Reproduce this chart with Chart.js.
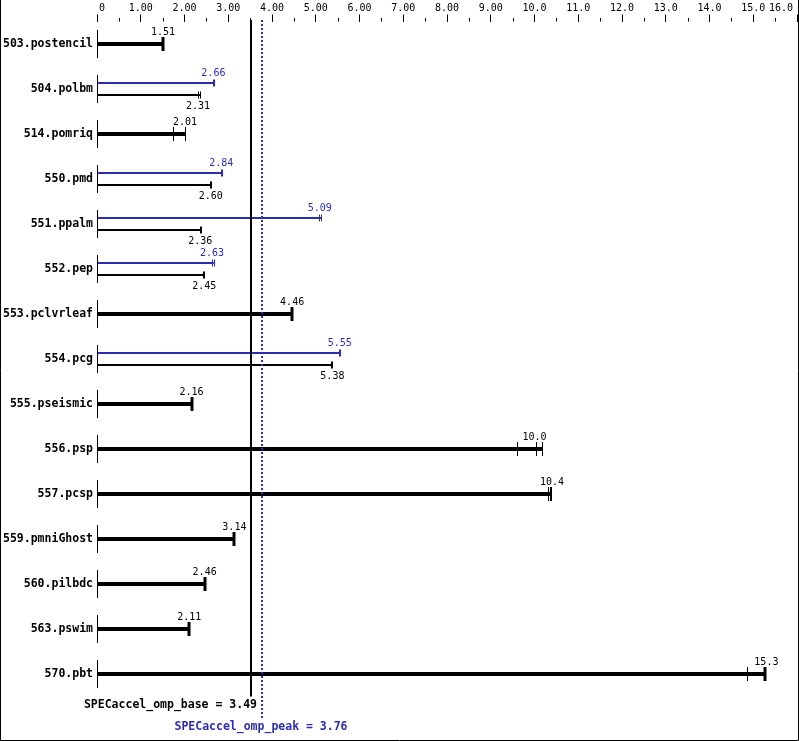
<!DOCTYPE html>
<html>
<head>
<meta charset="utf-8">
<script src="https://cdn.jsdelivr.net/npm/chart.js@4.4.0/dist/chart.umd.min.js"></script>
<style>
  body { margin: 0; background: #fff; }
  #wrap { width: 799px; height: 741px; }
</style>
</head>
<body>
<div id="wrap"><canvas id="specChart"></canvas></div>
<script>
const benchmarks = ["503.postencil", "504.polbm", "514.pomriq", "550.pmd", "551.ppalm",
  "552.pep", "553.pclvrleaf", "554.pcg", "555.pseismic", "556.psp", "557.pcsp",
  "559.pmniGhost", "560.pilbdc", "563.pswim", "570.pbt"];

// scores printed next to the bars
const baseScore = [1.51, 2.31, 2.01, 2.60, 2.36, 2.45, 4.46, 5.38, 2.16, 10.0, 10.4, 3.14, 2.46, 2.11, 15.3];
const peakScore = [null, 2.66, null, 2.84, 5.09, 2.63, null, 5.55, null, null, null, null, null, null, null];

// where each bar ends (slowest/fastest run)
const baseMax = [1.51, 2.36, 2.01, 2.60, 2.38, 2.44, 4.46, 5.38, 2.16, 10.18, 10.38, 3.14, 2.46, 2.11, 15.27];
const peakMax = [null, 2.67, null, 2.85, 5.13, 2.67, null, 5.56, null, null, null, null, null, null, null];

// individual run marks
const baseRuns = [[], [2.31, 2.36], [1.73, 2.01], [], [], [], [], [], [], [9.59, 10.03, 10.18],
  [10.31, 10.35, 10.38], [], [], [], [14.85]];
const peakRuns = [[], [], [], [], [5.08, 5.13], [2.63, 2.67], [], [5.52, 5.56], [], [], [], [], [], [], []];

const xTicks = [0, 1, 2, 3, 4, 5, 6, 7, 8, 9, 10, 11, 12, 13, 14, 15, 16];
const xTickLabels = ["0", "1.00", "2.00", "3.00", "4.00", "5.00", "6.00", "7.00", "8.00",
  "9.00", "10.0", "11.0", "12.0", "13.0", "14.0", "15.0", "16.0"];

const baseMean = 3.49;
const peakMean = 3.76;

const BLUE = "#2d2db4";
const MONO = "'DejaVu Sans Mono', 'Liberation Mono', monospace";

const hasPeak = peakScore.map(v => v !== null);
const baseThin = baseMax.map((v, i) => hasPeak[i] ? v : null);
const baseThick = baseMax.map((v, i) => hasPeak[i] ? null : v);

function fmt(v) {
  return v < 10 ? v.toFixed(2) : v.toFixed(1);
}

function vline(ctx, x, y1, y2, w, color) {
  ctx.beginPath();
  ctx.lineWidth = w;
  ctx.strokeStyle = color;
  ctx.moveTo(x, y1);
  ctx.lineTo(x, y2);
  ctx.stroke();
}

const marksPlugin = {
  id: "marks",
  beforeDraw(chart) {
    const ctx = chart.ctx;
    ctx.save();
    ctx.fillStyle = "#fff";
    ctx.fillRect(0, 0, chart.width, chart.height);
    ctx.restore();
  },
  afterDatasetsDraw(chart) {
    const { ctx, chartArea: area, scales: { x, y } } = chart;
    ctx.save();

    // x tick labels, kept inside the frame
    ctx.font = "10px " + MONO;
    ctx.fillStyle = "#000";
    ctx.textAlign = "center";
    ctx.textBaseline = "middle";
    xTicks.forEach((v, i) => {
      const t = xTickLabels[i];
      const w = ctx.measureText(t).width;
      let cx = x.getPixelForValue(v);
      cx = Math.max(cx, area.left + 2 + w / 2);
      cx = Math.min(cx, area.right - 4 - w / 2);
      ctx.fillText(t, cx, 8);
    });

    // minor ticks
    for (let v = 0.5; v < 16; v += 1) {
      const px = Math.round(x.getPixelForValue(v)) + 0.5;
      vline(ctx, px, area.top - 3.5, area.top, 1, "#000");
    }

    // row stubs on the left axis
    benchmarks.forEach((b, i) => {
      const cy = y.getPixelForValue(i);
      vline(ctx, area.left + 0.5, cy - 14, cy + 14, 1, "#000");
    });

    // caps, run marks and score labels
    const sets = [
      { meta: 0, max: peakMax, runs: peakRuns, score: peakScore, color: BLUE, half: 3.5, capW: 2, dy: -10 },
      { meta: 1, max: baseThin, runs: baseRuns, score: baseScore, color: "#000", half: 3.5, capW: 2, dy: 11 },
      { meta: 2, max: baseThick, runs: baseRuns, score: baseScore, color: "#000", half: 7, capW: 3, dy: -12 }
    ];
    ctx.font = "10px " + MONO;
    sets.forEach(s => {
      const meta = chart.getDatasetMeta(s.meta);
      meta.data.forEach((bar, i) => {
        if (s.max[i] === null) return;
        const cy = bar.y;
        const runs = s.runs[i];
        runs.forEach(r => {
          const px = Math.round(x.getPixelForValue(r)) + 0.5;
          vline(ctx, px, cy - s.half, cy + s.half, 1, s.color);
        });
        if (!runs.includes(s.max[i])) {
          const px = Math.round(x.getPixelForValue(s.max[i]));
          vline(ctx, px, cy - s.half, cy + s.half, s.capW, s.color);
        }
        ctx.fillStyle = s.color;
        ctx.fillText(fmt(s.score[i]), x.getPixelForValue(s.score[i]), cy + s.dy);
      });
    });

    // overall score lines
    const bx = Math.round(x.getPixelForValue(baseMean)) + 1;
    vline(ctx, bx, area.top - 1.5, area.bottom, 2, "#000");
    const px = Math.round(x.getPixelForValue(peakMean));
    ctx.setLineDash([2, 2]);
    vline(ctx, px, area.top - 1.5, area.bottom + 22, 2, BLUE);
    ctx.setLineDash([]);

    ctx.font = "bold 11.5px " + MONO;
    ctx.fillStyle = "#000";
    ctx.textAlign = "right";
    ctx.fillText("SPECaccel_omp_base = " + baseMean.toFixed(2), bx + 6, 705);
    ctx.fillStyle = BLUE;
    ctx.textAlign = "center";
    ctx.fillText("SPECaccel_omp_peak = " + peakMean.toFixed(2), px - 1, 727);

    // frame
    ctx.strokeStyle = "#000";
    ctx.lineWidth = 1;
    ctx.beginPath();
    ctx.moveTo(0.5, 0);
    ctx.lineTo(0.5, chart.height - 0.5);
    ctx.lineTo(chart.width - 0.5, chart.height - 0.5);
    ctx.lineTo(chart.width - 0.5, 0);
    ctx.stroke();
    ctx.restore();
  }
};

const barOpts = { categoryPercentage: 24 / 45, skipNull: true };

new Chart(document.getElementById("specChart"), {
  type: "bar",
  data: {
    labels: benchmarks,
    datasets: [
      { label: "peak", data: peakMax, backgroundColor: BLUE, barPercentage: 1 / 6, ...barOpts },
      { label: "base", data: baseThin, backgroundColor: "#000", barPercentage: 1 / 6, ...barOpts },
      { label: "base", data: baseThick, backgroundColor: "#000", barPercentage: 1 / 6, ...barOpts }
    ]
  },
  options: {
    indexAxis: "y",
    responsive: true,
    maintainAspectRatio: false,
    animation: false,
    layout: { padding: { left: 0, right: 2, top: 0, bottom: 44.5 } },
    plugins: { legend: { display: false }, tooltip: { enabled: false } },
    scales: {
      x: {
        position: "top",
        min: 0,
        max: 16,
        ticks: { stepSize: 1, display: false, autoSkip: false },
        grid: { drawOnChartArea: false, tickLength: 7, color: "#000" },
        border: { display: false },
        afterFit(s) { s.height = 21.5; s.paddingLeft = 0; s.paddingRight = 0; }
      },
      y: {
        ticks: { color: "#000", padding: 4, autoSkip: false, font: { family: MONO, size: 11.5, weight: "bold" } },
        grid: { display: false, drawTicks: false },
        border: { display: false },
        afterFit(s) { s.width = 97; s.paddingTop = 0; s.paddingBottom = 0; }
      }
    }
  },
  plugins: [marksPlugin]
});
</script>
</body>
</html>
